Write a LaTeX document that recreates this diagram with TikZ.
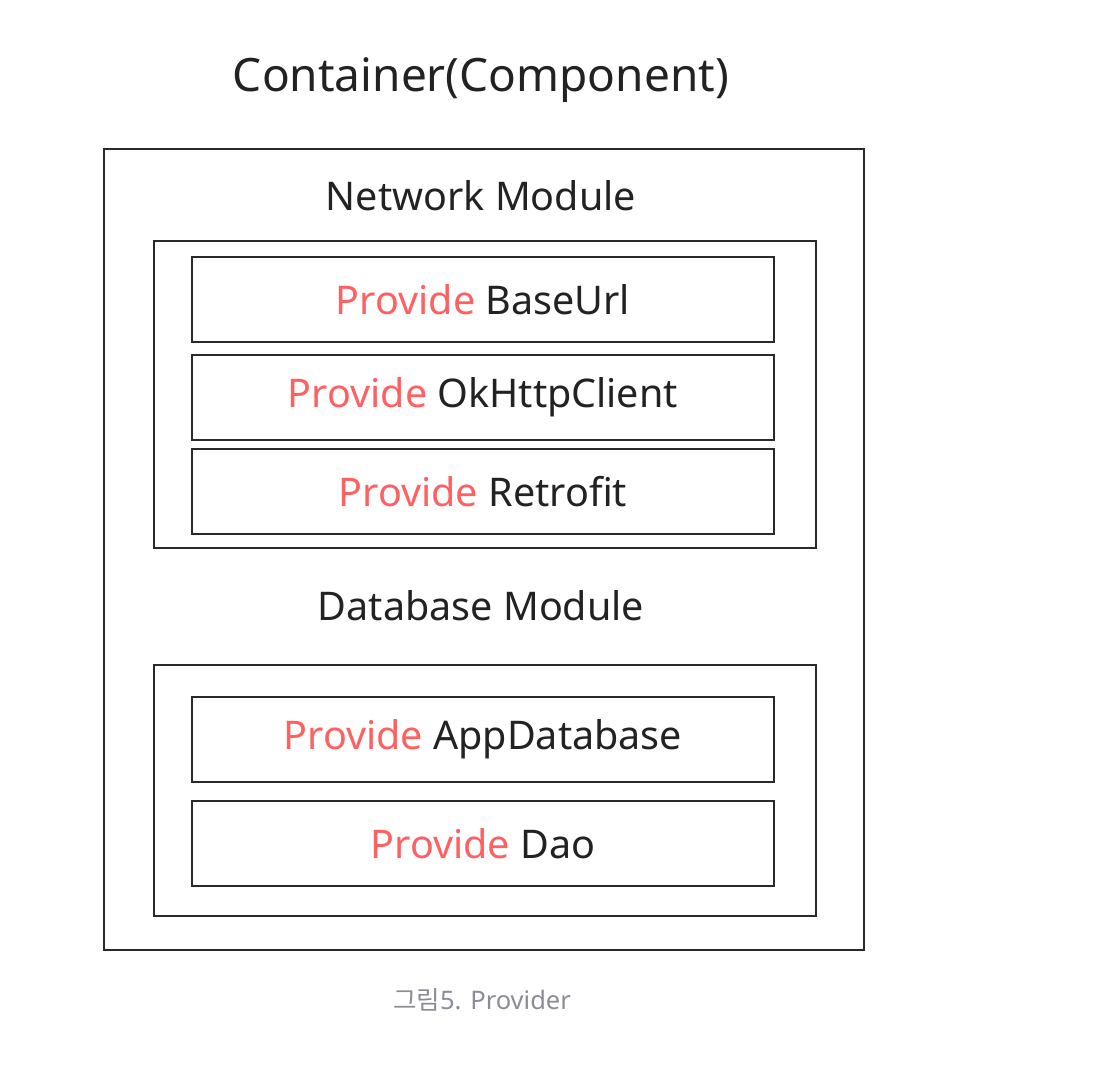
\documentclass[tikz,border=0pt]{standalone}
\usepackage{fontspec}
\setmainfont{Noto Sans}
\newfontfamily\krfont{Noto Sans CJK KR}
\definecolor{prov}{HTML}{FF6163}
\definecolor{txt}{HTML}{222222}
\definecolor{cap}{HTML}{8C8C96}
\definecolor{edge}{HTML}{2A2A2A}
\begin{document}
\begin{tikzpicture}[x=1pt,y=-1pt,
  frame/.style={draw=edge,line width=1.8pt,inner sep=0pt},
  pbox/.style={draw=edge,line width=1.8pt,minimum width=582pt,minimum height=85pt,inner sep=0pt,anchor=north west,font=\fontsize{39.5}{44}\selectfont,text=txt},
  lbl/.style={font=\fontsize{39.5}{44}\selectfont,text=txt}]
\useasboundingbox (0,0) rectangle (1098,1092);
\node[frame,minimum width=760pt,minimum height=801pt,anchor=north west] (outer) at (103,148) {};
\node[font=\fontsize{46}{52}\selectfont,text=txt] (title) at (481,80) {Container(Component)};
\node[lbl] (netl) at (481,196) {Network Module};
\node[frame,minimum width=662pt,minimum height=307pt,anchor=north west] (net) at (153,240) {};
\node[pbox] (p1) at (191,256) {\textcolor{prov}{Provide} BaseUrl};
\node[pbox] (p2) at (191,354) {\textcolor{prov}{Provide} OkHttpClient};
\node[pbox] (p3) at (191,448) {\textcolor{prov}{Provide} Retrofit};
\node[lbl] (dbl) at (481,606) {Database Module};
\node[frame,minimum width=662pt,minimum height=251pt,anchor=north west] (db) at (153,664) {};
\node[pbox] (p4) at (191,696) {\textcolor{prov}{Provide} AppDatabase};
\node[pbox] (p5) at (191,800) {\textcolor{prov}{Provide} Dao};
\node[font=\fontsize{25.5}{30}\selectfont,text=cap] (capt) at (482,1000) {{\krfont 그림}5. Provider};
\end{tikzpicture}
\end{document}
